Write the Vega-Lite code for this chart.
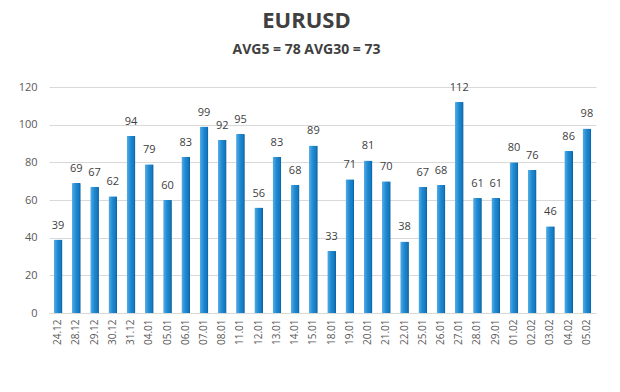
{
  "$schema": "https://vega.github.io/schema/vega-lite/v6.json",
  "width": 547,
  "height": 226,
  "autosize": {"type": "none"},
  "padding": {"left": 49, "top": 87, "right": 24, "bottom": 79},
  "background": "white",
  "title": {
    "text": "EURUSD",
    "subtitle": "AVG5 = 78 AVG30 = 73",
    "anchor": "middle",
    "dx": -16,
    "offset": 23,
    "font": "Open Sans",
    "fontSize": 22,
    "fontWeight": "bold",
    "color": "#404040",
    "subtitleFont": "Open Sans",
    "subtitleFontSize": 14,
    "subtitleFontWeight": "bold",
    "subtitleColor": "#404040",
    "subtitlePadding": 10
  },
  "data": {
    "values": [
      {"date": "24.12", "value": 39},
      {"date": "28.12", "value": 69},
      {"date": "29.12", "value": 67},
      {"date": "30.12", "value": 62},
      {"date": "31.12", "value": 94},
      {"date": "04.01", "value": 79},
      {"date": "05.01", "value": 60},
      {"date": "06.01", "value": 83},
      {"date": "07.01", "value": 99},
      {"date": "08.01", "value": 92},
      {"date": "11.01", "value": 95},
      {"date": "12.01", "value": 56},
      {"date": "13.01", "value": 83},
      {"date": "14.01", "value": 68},
      {"date": "15.01", "value": 89},
      {"date": "18.01", "value": 33},
      {"date": "19.01", "value": 71},
      {"date": "20.01", "value": 81},
      {"date": "21.01", "value": 70},
      {"date": "22.01", "value": 38},
      {"date": "25.01", "value": 67},
      {"date": "26.01", "value": 68},
      {"date": "27.01", "value": 112},
      {"date": "28.01", "value": 61},
      {"date": "29.01", "value": 61},
      {"date": "01.02", "value": 80},
      {"date": "02.02", "value": 76},
      {"date": "03.02", "value": 46},
      {"date": "04.02", "value": 86},
      {"date": "05.02", "value": 98}
    ]
  },
  "encoding": {
    "x": {
      "field": "date",
      "type": "ordinal",
      "sort": null,
      "scale": {"paddingInner": 0.52, "paddingOuter": 0.26},
      "axis": {
        "title": null,
        "labelAngle": -90,
        "labelFont": "Open Sans",
        "labelFontSize": 10,
        "labelColor": "#595959",
        "labelPadding": 6,
        "ticks": false,
        "domain": true,
        "domainColor": "#d9d9d9",
        "grid": false
      }
    },
    "y": {
      "field": "value",
      "type": "quantitative",
      "scale": {"domain": [0, 120], "nice": false},
      "axis": {
        "title": null,
        "values": [0, 20, 40, 60, 80, 100, 120],
        "labelFont": "Open Sans",
        "labelFontSize": 11,
        "labelColor": "#595959",
        "labelPadding": 12,
        "ticks": false,
        "domain": false,
        "gridColor": "#d9d9d9",
        "gridWidth": 1
      }
    }
  },
  "layer": [
    {
      "mark": {
        "type": "bar",
        "color": {
          "gradient": "linear",
          "x1": 0, "x2": 1, "y1": 0, "y2": 0,
          "stops": [
            {"offset": 0, "color": "#5aaee6"},
            {"offset": 0.45, "color": "#1f8ad2"},
            {"offset": 0.8, "color": "#1479c0"},
            {"offset": 1, "color": "#0b5a96"}
          ]
        },
        "cornerRadiusTopLeft": 1,
        "cornerRadiusTopRight": 1
      }
    },
    {
      "mark": {
        "type": "text",
        "dy": -9,
        "baseline": "bottom",
        "font": "Open Sans",
        "fontSize": 11,
        "color": "#404040"
      },
      "encoding": {"text": {"field": "value", "type": "quantitative"}}
    }
  ],
  "config": {"view": {"stroke": null}}
}
